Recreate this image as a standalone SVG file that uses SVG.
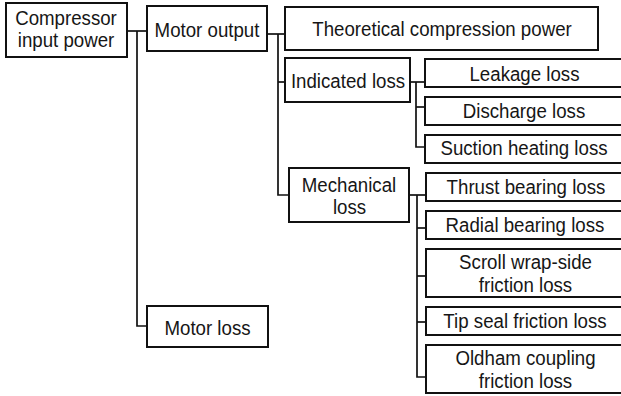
<svg xmlns="http://www.w3.org/2000/svg" width="621" height="396" viewBox="0 0 621 396">
  <style>
    .box { fill: #ffffff; stroke: #111111; stroke-width: 2; }
    .wire { fill: none; stroke: #111111; stroke-width: 1.7; }
    text { font-family: "Liberation Sans", Arial, sans-serif; font-size: 21px; fill: #161616; text-anchor: middle; }
  </style>
  <rect width="621" height="396" fill="#ffffff"/>

  <!-- connectors -->
  <g id="connectors">
    <!-- input power to motor output / motor loss -->
    <path class="wire" d="M127 31 H147"/>
    <path class="wire" d="M137 31 V326 H147"/>
    <!-- motor output to its parts -->
    <path class="wire" d="M267 34 H285"/>
    <path class="wire" d="M278 34 V195 H289"/>
    <path class="wire" d="M278 82 H285"/>
    <!-- indicated loss breakdown -->
    <path class="wire" d="M410 82 H425"/>
    <path class="wire" d="M416 82 V147 H425"/>
    <path class="wire" d="M416 107 H425"/>
    <!-- mechanical loss breakdown -->
    <path class="wire" d="M409 195 H426"/>
    <path class="wire" d="M417 195 V377 H426"/>
    <path class="wire" d="M417 228 H426"/>
    <path class="wire" d="M417 276 H426"/>
    <path class="wire" d="M417 322 H426"/>
  </g>

  <!-- labels use a horizontally condensed face: translate to the anchor, then squeeze -->
  <g id="compressor-input-power">
    <rect class="box" x="6" y="3" width="121" height="54"/>
    <text transform="translate(66 24.5) scale(0.89 1)">Compressor</text>
    <text transform="translate(66 46.5) scale(0.89 1)">input power</text>
  </g>

  <g id="motor-output">
    <rect class="box" x="147" y="6" width="120" height="45"/>
    <text transform="translate(207 36.5) scale(0.89 1)">Motor output</text>
  </g>

  <g id="motor-loss">
    <rect class="box" x="147" y="306" width="121" height="41"/>
    <text transform="translate(207.5 334.5) scale(0.89 1)">Motor loss</text>
  </g>

  <g id="theoretical-compression-power">
    <rect class="box" x="285" y="7" width="313" height="43"/>
    <text transform="translate(442 36) scale(0.89 1)">Theoretical compression power</text>
  </g>

  <g id="indicated-loss">
    <rect class="box" x="285" y="58" width="125" height="44"/>
    <text transform="translate(348 87.5) scale(0.89 1)">Indicated loss</text>
  </g>

  <g id="mechanical-loss">
    <rect class="box" x="289" y="168" width="120" height="54"/>
    <text transform="translate(349 191.5) scale(0.89 1)">Mechanical</text>
    <text transform="translate(349.5 213.5) scale(0.89 1)">loss</text>
  </g>

  <!-- right-hand column: boxes run on past the right edge of the sheet -->
  <g id="leakage-loss">
    <path class="box" d="M622 59 H425 V87 H622"/>
    <text transform="translate(524.5 80.5) scale(0.89 1)">Leakage loss</text>
  </g>

  <g id="discharge-loss">
    <path class="box" d="M622 97 H425 V125 H622"/>
    <text transform="translate(524 117.5) scale(0.89 1)">Discharge loss</text>
  </g>

  <g id="suction-heating-loss">
    <path class="box" d="M622 135 H425 V163 H622"/>
    <text transform="translate(524 155) scale(0.89 1)">Suction heating loss</text>
  </g>

  <g id="thrust-bearing-loss">
    <path class="box" d="M622 173 H426 V201 H622"/>
    <text transform="translate(526 193.5) scale(0.89 1)">Thrust bearing loss</text>
  </g>

  <g id="radial-bearing-loss">
    <path class="box" d="M622 211 H426 V239 H622"/>
    <text transform="translate(525 231.5) scale(0.89 1)">Radial bearing loss</text>
  </g>

  <g id="scroll-wrap-side-friction-loss">
    <path class="box" d="M622 249 H426 V297 H622"/>
    <text transform="translate(525.5 268.5) scale(0.89 1)">Scroll wrap-side</text>
    <text transform="translate(525.5 291.5) scale(0.89 1)">friction loss</text>
  </g>

  <g id="tip-seal-friction-loss">
    <path class="box" d="M622 307 H426 V335 H622"/>
    <text transform="translate(525 328) scale(0.89 1)">Tip seal friction loss</text>
  </g>

  <g id="oldham-coupling-friction-loss">
    <path class="box" d="M622 345 H426 V393 H622"/>
    <text transform="translate(525.5 364.5) scale(0.89 1)">Oldham coupling</text>
    <text transform="translate(525.5 388) scale(0.89 1)">friction loss</text>
  </g>
</svg>
